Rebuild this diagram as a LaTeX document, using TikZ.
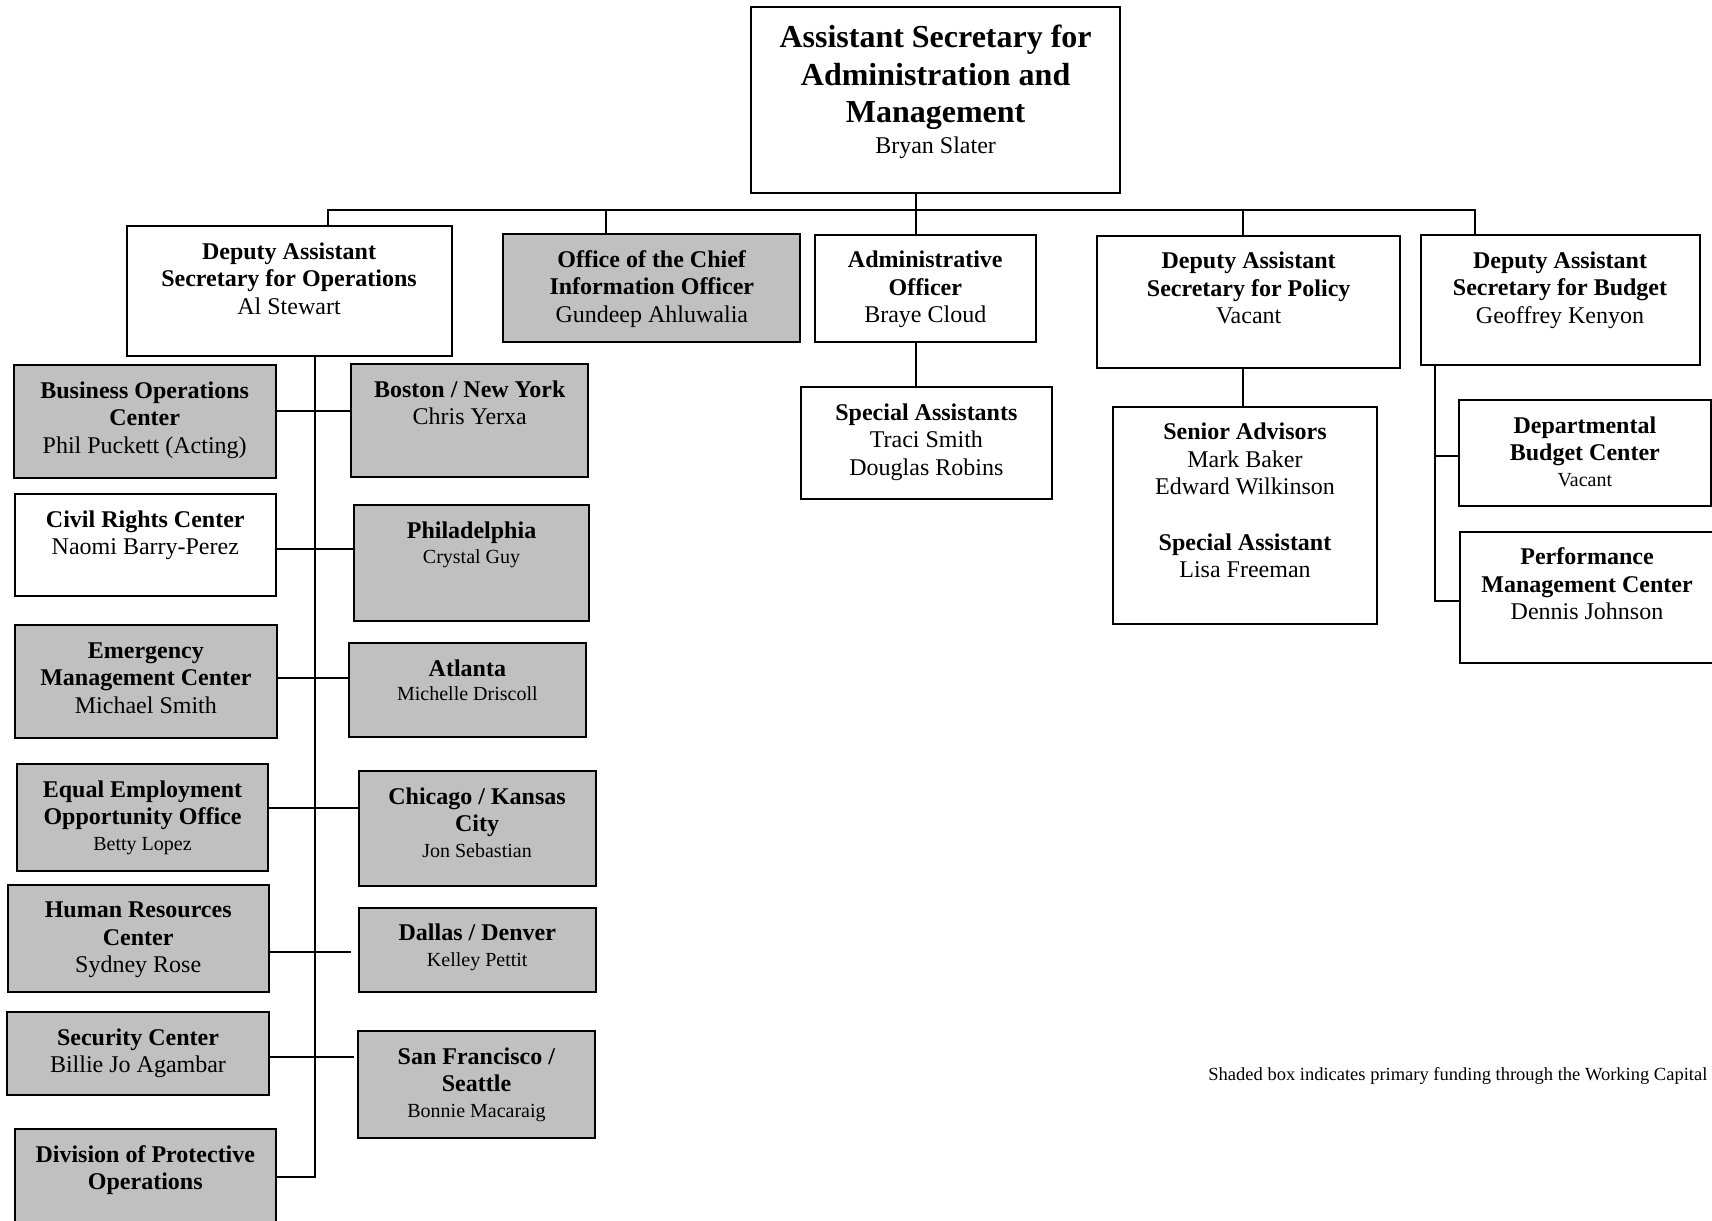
\documentclass[tikz,border=0pt]{standalone}
\usepackage{fontspec}
\setmainfont{Liberation Serif}
\usetikzlibrary{fit}
\definecolor{shade}{RGB}{192,192,192}
\newcommand{\orgnode}[6]{\node[orgbox, fill=#6, fit={(#2,#3) (#4,#5)}] (#1) {};}
\newcommand{\orgtext}[2]{\node[boxtext] (#1-t) at ([yshift=-7.15pt]#1.north) {#2};}
\newcommand{\nm}[1]{{\fontsize{10}{13.8}\selectfont #1}}
\begin{document}
\begin{tikzpicture}[x=0.5pt, y=-0.5pt,
  orgbox/.style={draw, line width=1pt, inner sep=0pt},
  boxtext/.style={anchor=north, align=center, inner sep=0pt, font=\fontsize{12}{13.8}\selectfont},
  conn/.style={line width=1pt}]
\useasboundingbox (0,0) rectangle (1712,1220);

% ---- boxes ----
\orgnode{top}{751}{6.7}{1120.2}{193.3}{white}
\node[boxtext, font=\fontsize{16}{18.8}\selectfont] (top-t) at ([yshift=-7.6pt]top.north)
  {\strut\textbf{Assistant Secretary for}\\\textbf{Administration and}\\\textbf{Management}\\[-3.5pt]{\fontsize{12}{18.8}\selectfont Bryan Slater}};

\orgnode{depops}{126.5}{226}{451.6}{355.7}{white}
\orgtext{depops}{\strut\textbf{Deputy Assistant}\\\textbf{Secretary for Operations}\\Al Stewart}

\orgnode{ocio}{503.3}{234}{800.3}{342}{shade}
\orgtext{ocio}{\strut\textbf{Office of the Chief}\\\textbf{Information Officer}\\Gundeep Ahluwalia}

\orgnode{admin}{814.9}{234.7}{1035.7}{342.3}{white}
\orgtext{admin}{\strut\textbf{Administrative}\\\textbf{Officer}\\Braye Cloud}

\orgnode{spa}{800.7}{387}{1052.1}{499}{white}
\orgtext{spa}{\strut\textbf{Special Assistants}\\Traci Smith\\Douglas Robins}

\orgnode{policy}{1096.9}{235.7}{1400.4}{367.7}{white}
\orgtext{policy}{\strut\textbf{Deputy Assistant}\\\textbf{Secretary for Policy}\\Vacant}

\orgnode{senior}{1113}{406.7}{1377}{624.3}{white}
\orgtext{senior}{\strut\textbf{Senior Advisors}\\Mark Baker\\Edward Wilkinson\\[13.8pt]\textbf{Special Assistant}\\Lisa Freeman}

\orgnode{budget}{1420.6}{235}{1699.5}{365}{white}
\orgtext{budget}{\strut\textbf{Deputy Assistant}\\\textbf{Secretary for Budget}\\Geoffrey Kenyon}

\orgnode{deptbudget}{1458.9}{400}{1710.8}{506}{white}
\orgtext{deptbudget}{\strut\textbf{Departmental}\\\textbf{Budget Center}\\[-1pt]\nm{Vacant}}

\orgnode{perf}{1459.7}{531.7}{1714.3}{662.7}{white}
\orgtext{perf}{\strut\textbf{Performance}\\\textbf{Management Center}\\Dennis Johnson}

\orgnode{busops}{13.8}{365}{275.6}{477.7}{shade}
\orgtext{busops}{\strut\textbf{Business Operations}\\\textbf{Center}\\Phil Puckett (Acting)}

\orgnode{civil}{14.6}{494}{276}{595.7}{white}
\orgtext{civil}{\strut\textbf{Civil Rights Center}\\Naomi Barry-Perez}

\orgnode{emerg}{15}{625}{276.8}{737.7}{shade}
\orgtext{emerg}{\strut\textbf{Emergency}\\\textbf{Management Center}\\Michael Smith}

\orgnode{eeo}{17}{764.3}{268}{870.7}{shade}
\orgtext{eeo}{\strut\textbf{Equal Employment}\\\textbf{Opportunity Office}\\[-1pt]\nm{Betty Lopez}}

\orgnode{hr}{7.5}{884.7}{268.9}{992}{shade}
\orgtext{hr}{\strut\textbf{Human Resources}\\\textbf{Center}\\Sydney Rose}

\orgnode{security}{7.1}{1012.3}{268.9}{1095}{shade}
\orgtext{security}{\strut\textbf{Security Center}\\Billie Jo Agambar}

\orgnode{dpo}{14.6}{1129.3}{276}{1245}{shade}
\orgtext{dpo}{\strut\textbf{Division of Protective}\\\textbf{Operations}}

\orgnode{boston}{351.1}{364.3}{588.4}{476.7}{shade}
\orgtext{boston}{\strut\textbf{Boston / New York}\\Chris Yerxa}

\orgnode{phila}{353.9}{505.3}{589.2}{620.7}{shade}
\orgtext{phila}{\strut\textbf{Philadelphia}\\[-1pt]\nm{Crystal Guy}}

\orgnode{atlanta}{348.7}{643.3}{586}{736.7}{shade}
\orgtext{atlanta}{\strut\textbf{Atlanta}\\[-1.5pt]\nm{Michelle Driscoll}}

\orgnode{chicago}{358.6}{771}{595.5}{886}{shade}
\orgtext{chicago}{\strut\textbf{Chicago / Kansas}\\\textbf{City}\\[-1pt]\nm{Jon Sebastian}}

\orgnode{dallas}{358.6}{907.7}{595.9}{992}{shade}
\orgtext{dallas}{\strut\textbf{Dallas / Denver}\\[-1pt]\nm{Kelley Pettit}}

\orgnode{sf}{357.9}{1031.3}{595.1}{1137.7}{shade}
\orgtext{sf}{\strut\textbf{San Francisco /}\\\textbf{Seattle}\\[-1pt]\nm{Bonnie Macaraig}}

% ---- connectors ----
\coordinate (xd) at (328.2,210);
\coordinate (xo) at (605.8,210);
\coordinate (xa) at (916.3,210);
\coordinate (xp) at (1243.2,210);
\coordinate (xb) at (1475,210);
\draw[conn] (depops.north -| xd) -- (xd) -- (xb) -- (budget.north -| xb);
\draw[conn] (xo) -- (ocio.north -| xo);
\draw[conn] (top.south -| xa) -- (admin.north -| xa);
\draw[conn] (xp) -- (policy.north -| xp);
\draw[conn] (admin.south -| xa) -- (spa.north -| xa);
\draw[conn] (policy.south -| xp) -- (senior.north -| xp);

\coordinate (tr) at (314.7,1177.3);
\draw[conn] (depops.south -| tr) -- (tr) -- (dpo.east |- tr);
\coordinate (b1) at (0,410.7);
\coordinate (b2) at (0,549);
\coordinate (b3) at (0,678.3);
\coordinate (b4) at (0,808.3);
\coordinate (e5) at (351.1,952.3);
\coordinate (e6) at (353.5,1057);
\draw[conn] (busops.east |- b1) -- (boston.west |- b1);
\draw[conn] (civil.east |- b2) -- (phila.west |- b2);
\draw[conn] (emerg.east |- b3) -- (atlanta.west |- b3);
\draw[conn] (eeo.east |- b4) -- (chicago.west |- b4);
\draw[conn] (hr.east |- e5) -- (e5);
\draw[conn] (security.east |- e6) -- (e6);

\coordinate (bt) at (1434.7,601);
\coordinate (b8) at (0,456);
\draw[conn] (budget.south -| bt) -- (bt) -- (perf.west |- bt);
\draw[conn] (bt |- b8) -- (deptbudget.west |- b8);

% ---- note ----
\node[anchor=west, inner sep=0pt, font=\fontsize{9.25}{11}\selectfont] (note) at (1208,1075.5)
  {Shaded box indicates primary funding through the Working Capital};
\end{tikzpicture}
\end{document}
